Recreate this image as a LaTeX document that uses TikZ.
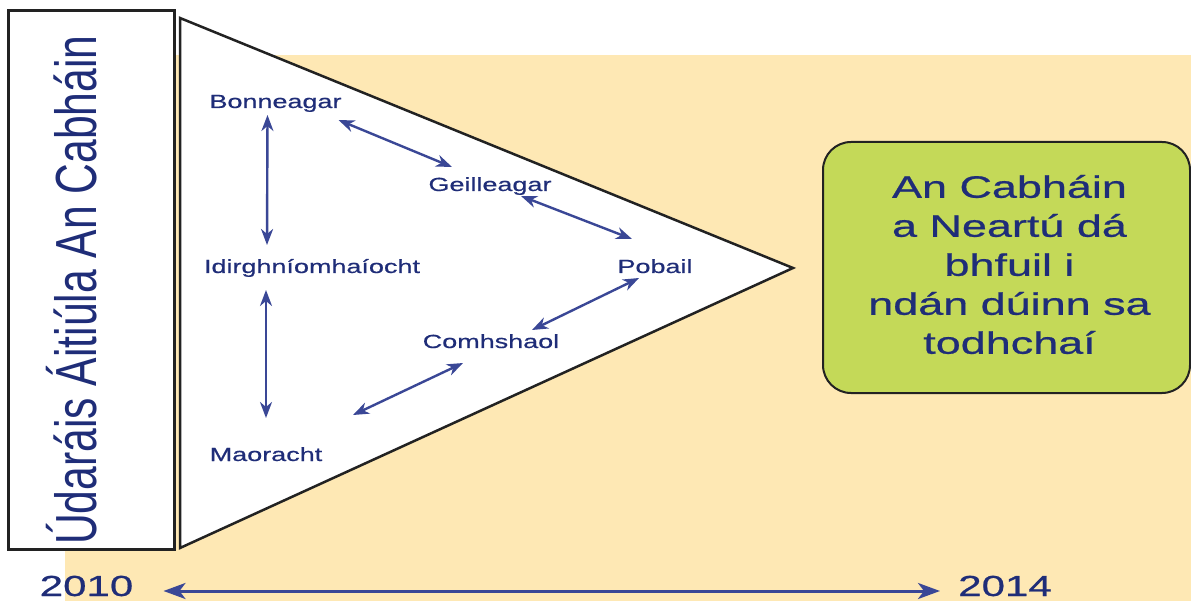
\documentclass[tikz,border=0pt]{standalone}
\usepackage{fontspec}
\setmainfont{Liberation Sans}
\newfontfamily\labf[FakeStretch=1.42,FakeBold=0.6]{Liberation Sans}
\newfontfamily\bigf[FakeStretch=1.45,FakeBold=0.7]{Liberation Sans}
\newfontfamily\narf[FakeStretch=0.735]{Liberation Sans}
\usetikzlibrary{arrows.meta,calc}
\definecolor{beige}{HTML}{FEE8B4}
\definecolor{txtblue}{HTML}{1F2D78}
\definecolor{arrblue}{HTML}{3A4796}
\definecolor{lime}{HTML}{C4D958}
\definecolor{edge}{HTML}{222222}
\begin{document}
\begin{tikzpicture}[x=1pt,y=-1pt,
  lab/.style={font=\labf\fontsize{19}{21}\selectfont, text=txtblue, inner sep=0pt, anchor=base},
  yearlab/.style={font=\bigf\fontsize{29}{31}\selectfont, text=txtblue, inner sep=0pt, anchor=base},
  biarrow/.style={draw=arrblue, line width=2.4pt, {Stealth[length=16pt,width=12pt,inset=5pt]}-{Stealth[length=16pt,width=12pt,inset=5pt]}},
  timearrow/.style={draw=arrblue, line width=3pt, {Stealth[length=22pt,width=16pt,inset=6pt]}-{Stealth[length=22pt,width=16pt,inset=6pt]}}
]
\useasboundingbox (0,0) rectangle (1191,601);
\fill[beige] (65,55) rectangle (1191,601);
% left box
\draw[edge, line width=3pt, fill=white] (8,11) rectangle (174,549);
\node[font=\narf\fontsize{58}{60}\selectfont, text=txtblue, inner sep=0pt, rotate=90, anchor=base west] (org) at (96,545) {Údaráis Áitiúla An Cabháin};
% triangle
\draw[edge, line width=2.5pt, fill=white, line join=miter] (180,18) -- (793,268) -- (180,548) -- cycle;
% labels
\node[lab] (bon) at (275.5,108) {Bonneagar};
\node[lab] (geil) at (490,191) {Geilleagar};
\node[lab] (pob) at (655,273) {Pobail};
\node[lab] (idir) at (312,273) {Idirghníomhaíocht};
\node[lab] (com) at (491,348) {Comhshaol};
\node[lab] (mao) at (266,461) {Maoracht};
% arrows
\draw[biarrow] ($(bon.base)+(-8,7)$) -- ($(idir.base)+(-45,-28)$);
\draw[biarrow] ($(bon.base)+(63,12)$) -- ($(geil.base)+(-38,-24)$);
\draw[biarrow] ($(geil.base)+(31,5)$) -- ($(pob.base)+(-23,-34)$);
\draw[biarrow] ($(pob.base)+(-16,5)$) -- ($(com.base)+(41,-18)$);
\draw[biarrow] ($(idir.base)+(-46,17)$) -- ($(mao.base)+(0,-43)$);
\draw[biarrow] ($(com.base)+(-28,15)$) -- ($(mao.base)+(87,-46)$);
% green box
\node[draw=edge, line width=2pt, fill=lime, rounded corners=28pt, minimum width=367pt, minimum height=251pt, inner sep=0pt] (goal) at (1006.5,267.5) {};
\node[align=center, text=txtblue, inner sep=0pt, font=\bigf\fontsize{31}{39}\selectfont] (goaltxt) at (goal.center) [xshift=3pt, yshift=3pt] {An Cabháin\\a Neartú dá\\bhfuil i\\ndán dúinn sa\\todhchaí};
% timeline
\node[yearlab] (y10) at (86.5,596) {2010};
\node[yearlab] (y14) at (1005,596) {2014};
\draw[timearrow] ($(y10.base)+(77,-5)$) -- ($(y14.base)+(-65,-5)$);
\end{tikzpicture}
\end{document}
